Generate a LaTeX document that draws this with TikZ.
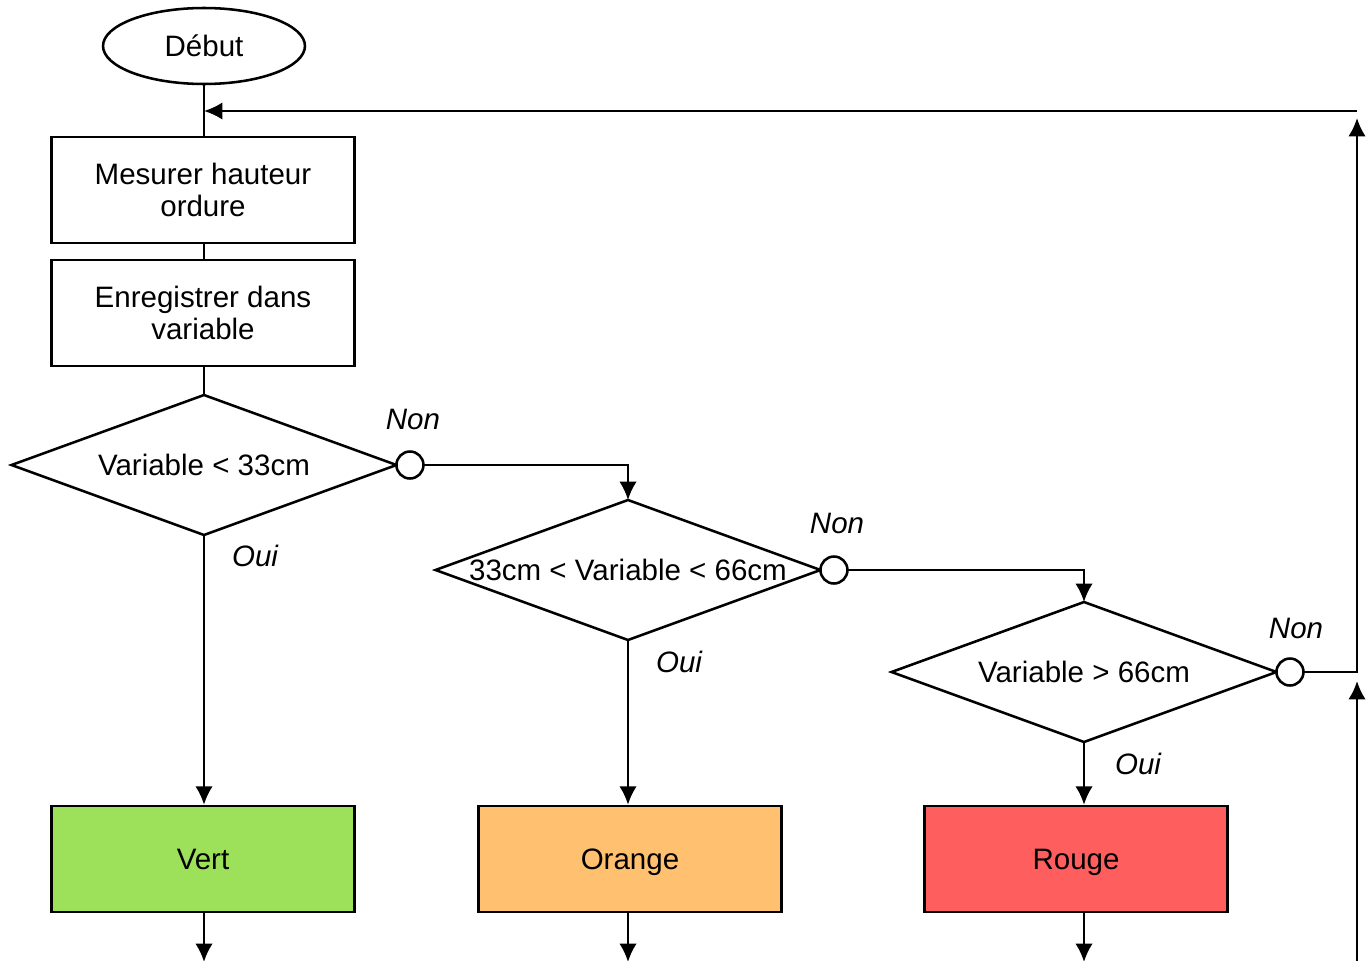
\documentclass[tikz,border=0pt]{standalone}
\usepackage{fontspec}
\setmainfont{Liberation Sans}
\usetikzlibrary{shapes.geometric,arrows.meta,positioning,calc}
\definecolor{vertfill}{RGB}{157,224,90}
\definecolor{orangefill}{RGB}{255,192,112}
\definecolor{rougefill}{RGB}{255,94,94}

\begin{document}
\begin{tikzpicture}[x=0.02cm, y=-0.02cm, line width=1.45pt,
        every node/.style={font=\fontsize{16.8}{18.5}\selectfont},
        startstop/.style={draw, ellipse, minimum width=4.04cm, minimum height=1.52cm, inner sep=0pt},
        process/.style={draw, rectangle, minimum width=6.06cm, minimum height=2.12cm, align=center, inner sep=0pt},
        result/.style={process, text height=12.5pt, text depth=0pt},
        decision/.style={draw, diamond, minimum width=7.7cm, minimum height=2.8cm, inner sep=0pt, outer sep=0pt},
        junction/.style={draw, circle, fill=white, minimum size=0.54cm, inner sep=0pt, outer sep=0pt},
        answer/.style={font=\fontsize{16.8}{18.5}\selectfont\itshape},
        flow/.style={-{Latex[length=10.5pt,width=10pt]}}]
        \useasboundingbox (0,0) rectangle (1371,960);
        % start and the two process steps
        \node[startstop] (debut) at (204,46) {Début};
        \node[process] (mesure) at (203,190) {Mesurer hauteur\\ordure};
        \node[process] (enreg) at (203,313) {Enregistrer dans\\variable};
        % the three tests
        \node[decision, label=center:{Variable < 33cm}] (test1) at (204,465) {};
        \node[junction, anchor=west] (non1) at (test1.east) {};
        \node[decision, label=center:{33cm < Variable < 66cm}] (test2) at (628,570) {};
        \node[junction, anchor=west] (non2) at (test2.east) {};
        \node[decision, label=center:{Variable > 66cm}] (test3) at (1084,672) {};
        \node[junction, anchor=west] (non3) at (test3.east) {};
        % results
        \node[result, fill=vertfill] (vert) at (203,859) {Vert};
        \node[result, fill=orangefill] (orange) at (630,859) {Orange};
        \node[result, fill=rougefill] (rouge) at (1076,859) {Rouge};
        % answers
        \node[answer] (lnon1) at (413,419) {Non};
        \node[answer] (loui1) at (255,556) {Oui};
        \node[answer] (lnon2) at (837,523) {Non};
        \node[answer] (loui2) at (679,662) {Oui};
        \node[answer] (lnon3) at (1296,628) {Non};
        \node[answer] (loui3) at (1138,764) {Oui};
        % loop ends
        \coordinate (retourHaut) at (1357,111);
        \coordinate (retourFin) at (1357,118);
        \coordinate (entreeBas) at (1357,962);
        \coordinate (entreeFin) at (1357,681);

        \draw (debut.south) -- (debut.south |- mesure.north);
        \draw (mesure.south -| debut.south) -- (debut.south |- enreg.north);
        \draw (enreg.south -| debut.south) -- (test1.north);
        \draw[flow] (test1.south) -- (test1.south |- vert.north);
        \draw[flow] (non1) -- (non1 -| test2.north) -- (test2.north);
        \draw[flow] (test2.south) -- (test2.south |- orange.north);
        \draw[flow] (non2) -- (non2 -| test3.north) -- (test3.north);
        \draw[flow] (test3.south) -- (test3.south |- rouge.north);
        \draw[flow] (non3) -- (non3 -| retourFin) -- (retourFin);
        \draw[flow] (retourHaut) -- (retourHaut -| debut.south);
        \draw[flow] (entreeBas) -- (entreeFin);
        \draw[flow] (test1.south |- vert.south) -- (test1.south |- entreeBas);
        \draw[flow] (test2.south |- orange.south) -- (test2.south |- entreeBas);
        \draw[flow] (test3.south |- rouge.south) -- (test3.south |- entreeBas);
    \end{tikzpicture}
\end{document}
